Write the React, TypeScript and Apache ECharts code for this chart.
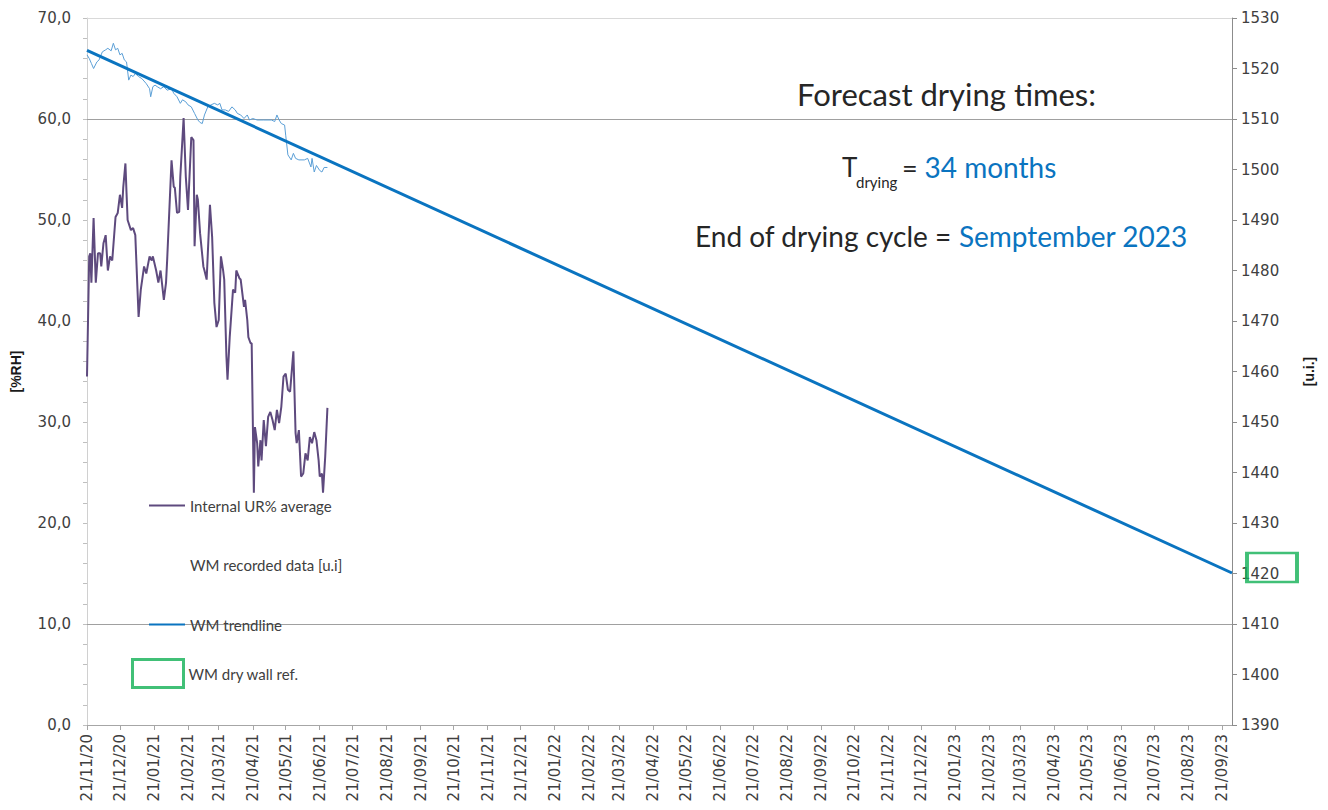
import React, { useEffect, useRef } from "react";
import * as echarts from "echarts";

// ---------- DATA ----------
const startDate = "2020-11-21";
const endDate = "2023-09-30";

const tickLabels = [
  "21/11/20", "21/12/20", "21/01/21", "21/02/21", "21/03/21", "21/04/21", "21/05/21",
  "21/06/21", "21/07/21", "21/08/21", "21/09/21", "21/10/21", "21/11/21", "21/12/21",
  "21/01/22", "21/02/22", "21/03/22", "21/04/22", "21/05/22", "21/06/22", "21/07/22",
  "21/08/22", "21/09/22", "21/10/22", "21/11/22", "21/12/22", "21/01/23", "21/02/23",
  "21/03/23", "21/04/23", "21/05/23", "21/06/23", "21/07/23", "21/08/23", "21/09/23",
];

// Internal UR% average (days since 21/11/20, %RH)
const urDays = [
  0, 2, 3, 4, 6, 8, 10, 12, 13, 15, 17, 19, 21, 23, 26, 28, 30, 32, 33, 35, 36, 37, 40, 42, 44,
  47, 49, 52, 54, 57, 59, 60, 63, 65, 67, 70, 72, 73, 77, 79, 80, 82, 84, 85, 88, 90, 92, 95,
  97, 98, 100, 101, 103, 106, 107, 109, 112, 114, 116, 118, 120, 122, 124, 125, 127, 128, 130,
  133, 135, 136, 139, 140, 143, 144, 146, 147, 149, 150, 152, 153, 155, 156, 158, 159, 161, 163,
  165, 167, 169, 171, 173, 175, 177, 179, 181, 183, 185, 188, 190, 191, 193, 195, 197, 199, 201,
  203, 205, 207, 209, 211, 212, 214, 215, 217, 219,
];
const urValues = [
  34.5, 46.4, 46.7, 43.8, 50.2, 43.8, 46.7, 46.7, 45.4, 47.7, 48.5, 45.0, 46.4, 46.0, 50.3, 50.7,
  52.5, 51.2, 53.2, 55.6, 52.7, 50.0, 49.0, 49.2, 48.5, 40.4, 43.1, 45.4, 44.7, 46.4, 46.0, 46.4,
  45.0, 43.8, 45.0, 42.1, 43.8, 46.0, 55.9, 53.3, 53.2, 50.7, 50.8, 54.3, 60.1, 54.3, 51.0, 58.2,
  57.9, 47.4, 52.5, 52.0, 48.7, 45.4, 45.0, 44.1, 51.5, 48.3, 41.8, 39.4, 40.1, 46.4, 45.0, 44.1,
  36.5, 34.2, 38.4, 43.1, 42.8, 45.0, 44.2, 44.1, 41.4, 42.1, 40.1, 38.4, 37.8, 37.8, 23.0, 29.5,
  27.9, 25.6, 28.2, 26.2, 30.2, 27.6, 30.5, 31.0, 30.2, 29.2, 31.2, 29.9, 31.5, 34.5, 34.8, 33.2,
  33.0, 37.0, 28.9, 27.9, 29.2, 24.6, 24.9, 26.9, 26.2, 28.5, 27.9, 29.0, 28.2, 26.2, 24.6, 24.9,
  23.0, 26.6, 31.4,
];

// WM recorded data [u.i] (days since 21/11/20, u.i.)
const wmDays = [
  0, 2, 4, 6, 9, 11, 14, 17, 19, 22, 24, 26, 28, 30, 32, 34, 36, 38, 40, 42, 44, 47, 50, 54, 57,
  58, 60, 62, 64, 67, 70, 73, 77, 79, 82, 85, 87, 90, 92, 95, 98, 101, 103, 105, 107, 110, 113,
  116, 119, 121, 123, 126, 129, 132, 135, 137, 140, 143, 146, 148, 151, 155, 161, 168, 171, 173,
  175, 177, 180, 181, 183, 186, 188, 190, 193, 198, 201, 204, 205, 207, 209, 212, 214, 216, 219,
];
const wmValues = [
  1522.7, 1522.0, 1521.0, 1520.0, 1521.3, 1521.7, 1523.3, 1523.7, 1524.0, 1523.5, 1525.0, 1523.7,
  1524.0, 1522.7, 1523.0, 1521.7, 1521.3, 1517.7, 1518.7, 1518.4, 1519.0, 1518.4, 1518.0, 1517.0,
  1516.0, 1514.4, 1516.4, 1516.7, 1516.4, 1516.0, 1516.4, 1515.7, 1516.0, 1515.1, 1514.4, 1513.1,
  1513.8, 1513.4, 1512.8, 1512.4, 1511.1, 1509.8, 1509.3, 1509.1, 1510.8, 1512.4, 1512.8, 1513.1,
  1512.8, 1513.1, 1511.8, 1511.8, 1511.5, 1512.4, 1511.8, 1511.1, 1510.8, 1510.1, 1510.8, 1509.8,
  1510.1, 1509.8, 1509.8, 1509.8, 1509.5, 1510.8, 1509.8, 1509.1, 1508.8, 1506.8, 1502.9, 1501.9,
  1503.2, 1502.2, 1501.9, 1501.9, 1502.2, 1500.5, 1502.2, 1499.5, 1500.8, 1499.8, 1499.5, 1500.4,
  1500.4,
];

// WM trendline (start / end)
const trendDates = ["2020-11-21", "2023-09-30"];
const trendValues = [1523.6, 1420.1];

// WM dry wall reference
const dryRefDate = "2023-09-30";
const dryRefValue = 1420;

const gridLinesRight = [1510, 1410];

// ---------- HELPERS ----------
function buildDays(from: string, to: string): string[] {
  const out: string[] = [];
  const [fy, fm, fd] = from.split("-").map(Number);
  const [ty, tm, td] = to.split("-").map(Number);
  let t = Date.UTC(fy, fm - 1, fd);
  const end = Date.UTC(ty, tm - 1, td);
  while (t <= end) {
    out.push(new Date(t).toISOString().slice(0, 10));
    t += 86400000;
  }
  return out;
}
function fmtDate(iso: string): string {
  return iso.slice(8, 10) + "/" + iso.slice(5, 7) + "/" + iso.slice(2, 4);
}

export default function App() {
  const ref = useRef<HTMLDivElement>(null);

  useEffect(() => {
    if (!ref.current) return;
    const chart = echarts.init(ref.current, undefined, { renderer: "svg" });
    const days = buildDays(startDate, endDate);
    const tickSet = new Set(tickLabels);
    const isTick = (_i: number, v: string) => tickSet.has(fmtDate(v));

    const axisFont = "DejaVu Sans";
    const labelColor = "#404040";
    const blue = "#0a74c0";
    const green = "#12b055";
    const hideSym = { opacity: 0 };

    chart.setOption({
      animation: false,
      backgroundColor: "#ffffff",
      grid: { left: 87, right: 96, top: 18, bottom: 85, containLabel: false },
      legend: [
        {
          left: 148,
          top: 498,
          padding: 0,
          orient: "vertical",
          itemWidth: 36,
          itemHeight: 14,
          itemGap: 44.5,
          textStyle: { fontFamily: "Lato", fontSize: 15, color: "#404040", lineHeight: 14 },
          data: [
            { name: "Internal UR% average", itemStyle: hideSym },
            {
              name: "WM recorded data [u.i]",
              itemStyle: hideSym,
              lineStyle: { opacity: 0 },
            },
            { name: "WM trendline", itemStyle: hideSym },
          ],
          selectedMode: false,
        },
        {
          left: 131,
          top: 658,
          padding: 0,
          orient: "vertical",
          itemWidth: 51,
          itemHeight: 28,
          textStyle: { fontFamily: "Lato", fontSize: 15, color: "#404040" },
          data: [
            {
              name: "WM dry wall ref.",
              icon: "rect",
              itemStyle: { color: "rgba(0,0,0,0)", borderColor: green, borderWidth: 3 },
            },
          ],
          selectedMode: false,
        },
      ],
      xAxis: {
        type: "category",
        data: days,
        boundaryGap: false,
        axisLine: { show: true, lineStyle: { color: "#a6a6a6", width: 1 } },
        axisTick: { show: true, interval: isTick, length: 5, lineStyle: { color: "#a6a6a6" } },
        axisLabel: {
          interval: isTick,
          rotate: 90,
          formatter: (v: string) => fmtDate(v),
          fontFamily: axisFont,
          fontSize: 15,
          color: labelColor,
          margin: 9,
        },
        splitLine: { show: false },
      },
      yAxis: [
        {
          type: "value",
          min: 0,
          max: 70,
          interval: 10,
          name: "[%RH]",
          nameLocation: "middle",
          nameRotate: 90,
          nameGap: 64,
          nameTextStyle: { fontFamily: "Liberation Sans", fontSize: 14, fontWeight: "bold", color: "#1a1a1a" },
          axisLine: { show: true, lineStyle: { color: "#d0d0d0" } },
          axisTick: { show: true, length: 4, lineStyle: { color: "#bfbfbf" } },
          minorTick: { show: true, splitNumber: 5, length: 4, lineStyle: { color: "#bfbfbf" } },
          axisLabel: {
            formatter: (v: number) => v.toFixed(1).replace(".", ","),
            fontFamily: axisFont,
            fontSize: 15,
            color: labelColor,
            margin: 16,
          },
          splitLine: { show: false },
        },
        {
          type: "value",
          min: 1390,
          max: 1530,
          interval: 10,
          position: "right",
          name: "[u.i.]",
          nameLocation: "middle",
          nameRotate: 90,
          nameGap: 70,
          nameTextStyle: { fontFamily: "Liberation Sans", fontSize: 14, fontWeight: "bold", color: "#1a1a1a" },
          axisLine: { show: true, lineStyle: { color: "#8c8c8c" } },
          axisTick: { show: true, length: 5, lineStyle: { color: "#8c8c8c" } },
          axisLabel: {
            formatter: (v: number) => String(v),
            fontFamily: axisFont,
            fontSize: 15,
            color: labelColor,
            margin: 9,
          },
          splitLine: { show: false },
        },
      ],
      series: [
        {
          name: "Internal UR% average",
          type: "line",
          yAxisIndex: 0,
          symbol: "none",
          data: urDays.map((d, i) => [days[d], urValues[i]]),
          lineStyle: { color: "#5e4a7e", width: 2 },
          itemStyle: { color: "#5e4a7e" },
          z: 3,
        },
        {
          name: "WM recorded data [u.i]",
          type: "line",
          yAxisIndex: 1,
          symbol: "none",
          data: wmDays.map((d, i) => [days[d], wmValues[i]]),
          lineStyle: { color: "#5b9fd6", width: 1 },
          itemStyle: { color: "#5b9fd6" },
          z: 3,
        },
        {
          name: "WM trendline",
          type: "line",
          yAxisIndex: 1,
          symbol: "none",
          data: trendDates.map((d, i) => [d, trendValues[i]]),
          lineStyle: { color: blue, width: 3 },
          itemStyle: { color: blue },
          z: 4,
          markLine: {
            silent: true,
            symbol: "none",
            label: { show: false },
            lineStyle: { color: "#a0a0a0", width: 1, type: "solid" },
            data: [
              ...gridLinesRight.map((v) => ({ yAxis: v })),
              { yAxis: 1530, lineStyle: { color: "#d9d9d9", width: 1, type: "solid" } },
            ],
            z: 1,
          },
        },
        {
          name: "WM dry wall ref.",
          type: "scatter",
          yAxisIndex: 1,
          symbol: "rect",
          symbolSize: [50, 29],
          symbolOffset: [40, -6],
          clip: false,
          data: [[dryRefDate, dryRefValue]],
          itemStyle: { color: "rgba(0,0,0,0)", borderColor: green, borderWidth: 3 },
          z: 5,
        },
      ],
      graphic: [
        {
          type: "text",
          left: 797,
          top: 78,
          style: { text: "Forecast drying times:", font: "31px Lato", fill: "#262626" },
        },
        {
          type: "text",
          left: 842,
          top: 154,
          style: { text: "T", font: "26px Lato", fill: "#262626" },
        },
        {
          type: "text",
          left: 856,
          top: 174,
          style: { text: "drying", font: "15px Lato", fill: "#262626" },
        },
        {
          type: "text",
          left: 902,
          top: 153,
          style: {
            text: "{k|= }{b|34 months}",
            rich: {
              k: { fontFamily: "Lato", fontSize: 27, fill: "#262626", color: "#262626" },
              b: { fontFamily: "Lato", fontSize: 28, fill: blue, color: blue },
            },
          },
        },
        {
          type: "text",
          left: 695,
          top: 222,
          style: {
            text: "{k|End of drying cycle = }{b|Semptember 2023}",
            rich: {
              k: { fontFamily: "Lato", fontSize: 28, fill: "#262626", color: "#262626" },
              b: { fontFamily: "Lato", fontSize: 28, fill: blue, color: blue },
            },
          },
        },
      ],
    });
    return () => chart.dispose();
  }, []);

  return (
    <div
      ref={ref}
      style={{ position: "fixed", left: 0, top: 0, width: 1328, height: 810, background: "#fff" }}
    />
  );
}
